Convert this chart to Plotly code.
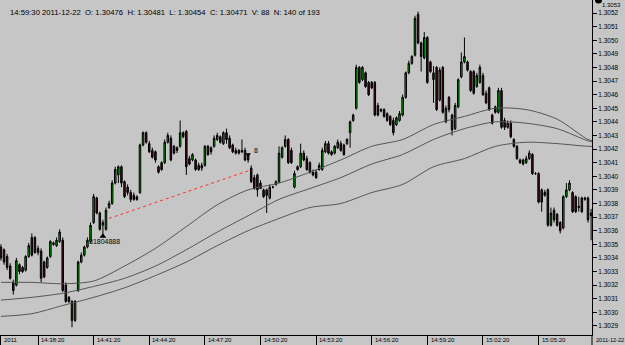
import plotly.graph_objects as go

# ---------------- data ----------------
bars = list(range(192))

opens = [1.30348,1.30346,1.30341,1.30334,1.30322,1.30320,1.30335,1.30333,1.30331,1.30341,
1.30355,1.30355,1.30347,1.30345,1.30337,1.30333,1.30341,1.30351,1.30349,1.30352,
1.30353,1.30320,1.30311,1.30308,1.30294,1.30316,1.30337,1.30342,1.30348,1.30352,
1.30366,1.30384,1.30373,1.30364,1.30361,1.30377,1.30380,1.30395,1.30401,1.30407,
1.30396,1.30392,1.30388,1.30386,1.30385,1.30388,1.30423,1.30432,1.30424,1.30419,
1.30418,1.30407,1.30410,1.30410,1.30425,1.30428,1.30422,1.30421,1.30422,1.30432,
1.30433,1.30413,1.30412,1.30412,1.30408,1.30408,1.30408,1.30422,1.30421,1.30422,
1.30427,1.30429,1.30424,1.30432,1.30428,1.30423,1.30419,1.30419,1.30419,1.30419,
1.30416,1.30406,1.30399,1.30401,1.30395,1.30390,1.30390,1.30384,1.30392,1.30394,
1.30396,1.30414,1.30422,1.30427,1.30419,1.30392,1.30407,1.30407,1.30417,1.30413,
1.30410,1.30403,1.30403,1.30405,1.30405,1.30418,1.30424,1.30418,1.30417,1.30421,
1.30424,1.30423,1.30424,1.30432,1.30441,1.30450,1.30480,1.30471,1.30476,1.30469,
1.30469,1.30469,1.30452,1.30449,1.30449,1.30446,1.30444,1.30441,1.30438,1.30441,
1.30445,1.30458,1.30476,1.30483,1.30489,1.30519,1.30498,1.30487,1.30502,1.30484,
1.30476,1.30480,1.30456,1.30480,1.30440,1.30458,1.30445,1.30435,1.30451,1.30473,
1.30484,1.30484,1.30477,1.30477,1.30466,1.30469,1.30474,1.30461,1.30465,1.30445,
1.30451,1.30447,1.30463,1.30441,1.30436,1.30439,1.30427,1.30422,1.30412,1.30412,
1.30410,1.30413,1.30416,1.30402,1.30402,1.30390,1.30386,1.30390,1.30364,1.30375,
1.30372,1.30366,1.30362,1.30385,1.30390,1.30388,1.30385,1.30378,1.30384,1.30383,
1.30384,1.30371]

highs = [1.30350,1.30347,1.30343,1.30336,1.30324,1.30340,1.30336,1.30334,1.30342,1.30351,
1.30358,1.30356,1.30349,1.30347,1.30338,1.30341,1.30353,1.30352,1.30355,1.30361,
1.30355,1.30322,1.30312,1.30309,1.30309,1.30338,1.30344,1.30349,1.30355,1.30366,
1.30387,1.30385,1.30374,1.30368,1.30377,1.30382,1.30397,1.30407,1.30408,1.30408,
1.30397,1.30394,1.30390,1.30388,1.30386,1.30424,1.30433,1.30433,1.30426,1.30421,
1.30419,1.30408,1.30411,1.30427,1.30432,1.30430,1.30423,1.30422,1.30441,1.30433,
1.30434,1.30415,1.30417,1.30413,1.30410,1.30410,1.30423,1.30423,1.30422,1.30430,
1.30432,1.30430,1.30433,1.30435,1.30430,1.30424,1.30421,1.30420,1.30427,1.30421,
1.30417,1.30408,1.30401,1.30402,1.30397,1.30391,1.30391,1.30394,1.30393,1.30397,
1.30422,1.30422,1.30430,1.30428,1.30421,1.30404,1.30408,1.30424,1.30419,1.30415,
1.30411,1.30405,1.30405,1.30410,1.30421,1.30426,1.30426,1.30419,1.30423,1.30427,
1.30426,1.30424,1.30428,1.30441,1.30446,1.30482,1.30481,1.30481,1.30477,1.30470,
1.30470,1.30470,1.30454,1.30450,1.30450,1.30447,1.30445,1.30443,1.30444,1.30448,
1.30460,1.30477,1.30485,1.30489,1.30518,1.30521,1.30499,1.30506,1.30503,1.30485,
1.30481,1.30481,1.30480,1.30481,1.30452,1.30459,1.30446,1.30454,1.30472,1.30491,
1.30502,1.30485,1.30478,1.30478,1.30476,1.30482,1.30476,1.30463,1.30466,1.30446,
1.30452,1.30465,1.30465,1.30443,1.30441,1.30441,1.30428,1.30423,1.30413,1.30413,
1.30415,1.30419,1.30417,1.30403,1.30403,1.30391,1.30390,1.30391,1.30377,1.30377,
1.30373,1.30367,1.30386,1.30395,1.30397,1.30389,1.30386,1.30385,1.30385,1.30385,
1.30385,1.30376]

lows = [1.30338,1.30335,1.30331,1.30324,1.30313,1.30319,1.30328,1.30329,1.30330,1.30340,
1.30341,1.30343,1.30342,1.30322,1.30325,1.30332,1.30340,1.30349,1.30348,1.30351,
1.30315,1.30307,1.30307,1.30289,1.30293,1.30315,1.30336,1.30341,1.30347,1.30351,
1.30365,1.30372,1.30360,1.30357,1.30360,1.30376,1.30379,1.30394,1.30395,1.30392,
1.30384,1.30386,1.30381,1.30382,1.30382,1.30387,1.30422,1.30424,1.30417,1.30413,
1.30410,1.30402,1.30404,1.30409,1.30424,1.30411,1.30416,1.30417,1.30421,1.30428,
1.30401,1.30408,1.30411,1.30404,1.30404,1.30404,1.30407,1.30415,1.30416,1.30421,
1.30426,1.30424,1.30423,1.30424,1.30420,1.30417,1.30416,1.30416,1.30417,1.30411,
1.30410,1.30395,1.30390,1.30385,1.30391,1.30384,1.30373,1.30383,1.30391,1.30393,
1.30395,1.30413,1.30421,1.30409,1.30409,1.30391,1.30404,1.30406,1.30411,1.30404,
1.30402,1.30400,1.30398,1.30404,1.30404,1.30417,1.30416,1.30415,1.30416,1.30420,
1.30418,1.30415,1.30423,1.30421,1.30440,1.30449,1.30468,1.30470,1.30465,1.30459,
1.30464,1.30444,1.30444,1.30447,1.30443,1.30440,1.30437,1.30430,1.30437,1.30440,
1.30444,1.30457,1.30475,1.30482,1.30488,1.30497,1.30477,1.30486,1.30468,1.30476,
1.30454,1.30448,1.30455,1.30446,1.30439,1.30447,1.30430,1.30434,1.30450,1.30472,
1.30483,1.30477,1.30462,1.30460,1.30465,1.30468,1.30459,1.30453,1.30448,1.30438,
1.30446,1.30446,1.30435,1.30434,1.30435,1.30428,1.30421,1.30412,1.30409,1.30408,
1.30409,1.30412,1.30401,1.30401,1.30380,1.30374,1.30385,1.30363,1.30363,1.30366,
1.30363,1.30358,1.30361,1.30384,1.30389,1.30373,1.30373,1.30374,1.30373,1.30382,
1.30366,1.30353]

closes = [1.30340,1.30337,1.30333,1.30325,1.30316,1.30338,1.30330,1.30330,1.30341,1.30349,
1.30342,1.30344,1.30344,1.30325,1.30326,1.30340,1.30352,1.30350,1.30353,1.30359,
1.30316,1.30308,1.30308,1.30294,1.30308,1.30337,1.30342,1.30348,1.30353,1.30364,
1.30385,1.30373,1.30361,1.30366,1.30375,1.30380,1.30395,1.30405,1.30407,1.30395,
1.30385,1.30388,1.30383,1.30383,1.30383,1.30423,1.30432,1.30425,1.30418,1.30414,
1.30412,1.30403,1.30405,1.30425,1.30430,1.30412,1.30417,1.30419,1.30432,1.30429,
1.30407,1.30409,1.30416,1.30405,1.30405,1.30406,1.30422,1.30416,1.30418,1.30428,
1.30430,1.30425,1.30432,1.30427,1.30421,1.30418,1.30417,1.30417,1.30418,1.30412,
1.30412,1.30396,1.30391,1.30390,1.30391,1.30385,1.30386,1.30392,1.30392,1.30396,
1.30417,1.30421,1.30427,1.30410,1.30410,1.30402,1.30405,1.30417,1.30412,1.30405,
1.30403,1.30401,1.30399,1.30408,1.30419,1.30424,1.30417,1.30416,1.30422,1.30425,
1.30419,1.30416,1.30427,1.30440,1.30445,1.30480,1.30469,1.30480,1.30466,1.30460,
1.30465,1.30445,1.30445,1.30448,1.30444,1.30441,1.30438,1.30432,1.30443,1.30446,
1.30458,1.30476,1.30483,1.30488,1.30516,1.30498,1.30488,1.30502,1.30469,1.30477,
1.30471,1.30449,1.30478,1.30447,1.30450,1.30449,1.30434,1.30452,1.30471,1.30484,
1.30488,1.30478,1.30463,1.30461,1.30474,1.30480,1.30460,1.30454,1.30449,1.30439,
1.30447,1.30463,1.30436,1.30436,1.30439,1.30429,1.30422,1.30413,1.30410,1.30409,
1.30413,1.30417,1.30402,1.30402,1.30381,1.30381,1.30388,1.30364,1.30373,1.30368,
1.30364,1.30360,1.30385,1.30390,1.30395,1.30374,1.30374,1.30377,1.30374,1.30384,
1.30368,1.30373]

# moving-average curves, read at sample bars
ma_bars = [0,10,20,30,40,50,60,70,80,90,100,110,120,130,140,150,160,170,180,190,192]
ma_fast = [1.30322,1.30322,1.30321,1.30323,1.30334,1.30347,1.30363,1.30379,1.30390,1.30395,
           1.30403,1.30412,1.30422,1.30427,1.30438,1.30444,1.30450,1.30449,1.30442,1.30427,1.30426]
ma_mid = [1.30309,1.30311,1.30314,1.30319,1.30325,1.30334,1.30346,1.30359,1.30371,1.30383,
          1.30391,1.30399,1.30409,1.30416,1.30427,1.30435,1.30440,1.30439,1.30435,1.30426,1.30425]
ma_slow = [1.30297,1.30299,1.30305,1.30311,1.30318,1.30327,1.30337,1.30349,1.30360,1.30369,
           1.30377,1.30380,1.30388,1.30394,1.30407,1.30413,1.30422,1.30425,1.30424,1.30422,1.30422]

# drawn trend line
trend_bars = [35, 80]
trend_prices = [1.30369, 1.30404]

# signal marker
signal_bar = 33
signal_price = 1.30356
signal_text = "31804888"
flag_bar = 80
flag_price = 1.30416
flag_text = "8"

# axes
time_tick_bars = [0, 12, 30, 48, 66, 84, 102, 120, 138, 156, 174]
time_tick_text = ["2011", "14:38:20", "14:41:20", "14:44:20", "14:47:20", "14:50:20",
                  "14:53:20", "14:56:20", "14:59:20", "15:02:20", "15:05:20"]
end_date_text = "2011-12-22"
price_ticks = [1.3029 + 0.0001 * k for k in range(24)]
top_price_text = "1.3053"
header_text = ("14:59:30 2011-12-22  O: 1.30476  H: 1.30481  L: 1.30454  "
               "C: 1.30471  V: 88  N: 140 of 193")

# ---------------- figure ----------------
BG = "#c6c6c6"
W, H = 625, 345
L, R, T, B = 0, 33, 0, 10
PW, PH = W - L - R, H - T - B
FONT = "Liberation Sans, Arial, sans-serif"

fig = go.Figure()

for vals in (ma_slow, ma_mid, ma_fast):
    fig.add_trace(go.Scatter(x=ma_bars, y=vals, mode="lines",
                             line=dict(color="#555555", width=1, shape="spline", smoothing=0.8),
                             hoverinfo="skip", showlegend=False))

fig.add_trace(go.Scatter(x=trend_bars, y=trend_prices, mode="lines",
                         line=dict(color="#ff3030", width=1, dash="dot"),
                         hoverinfo="skip", showlegend=False))

fig.add_trace(go.Candlestick(
    x=bars, open=opens, high=highs, low=lows, close=closes,
    increasing=dict(fillcolor="#00b000", line=dict(color="#000000", width=1)),
    decreasing=dict(fillcolor="#4a0c18", line=dict(color="#000000", width=1)),
    whiskerwidth=0, hoverinfo="skip", showlegend=False))

fig.add_trace(go.Scatter(x=[signal_bar], y=[signal_price], mode="markers",
                         marker=dict(symbol="triangle-up", size=6, color="black"),
                         hoverinfo="skip", showlegend=False))
fig.add_trace(go.Scatter(x=[flag_bar], y=[flag_price], mode="markers",
                         marker=dict(symbol="triangle-down", size=5, color="black"),
                         hoverinfo="skip", showlegend=False))

ann = []
ann.append(dict(x=signal_bar + 0.4, y=signal_price - 0.00004, xref="x", yref="y",
                text=signal_text, showarrow=False, xanchor="center", yanchor="middle",
                font=dict(size=7, color="black", family=FONT)))
ann.append(dict(x=flag_bar + 1.2, y=flag_price + 0.00003, xref="x", yref="y",
                text=flag_text, showarrow=False, xanchor="left", yanchor="middle",
                font=dict(size=7, color="black", family=FONT)))
for b, t in zip(time_tick_bars, time_tick_text):
    ann.append(dict(x=b + 0.4, y=-5.5 / PH, xref="x", yref="paper", text=t,
                    showarrow=False, xanchor="left", yanchor="middle",
                    font=dict(size=6, color="black", family=FONT)))
ann.append(dict(x=594 / PW, y=-5.5 / PH, xref="paper", yref="paper", text=end_date_text,
                showarrow=False, xanchor="left", yanchor="middle",
                font=dict(size=5.6, color="black", family=FONT)))
ann.append(dict(x=600 / PW, y=1.0, xref="paper", yref="paper", text=top_price_text,
                showarrow=False, xanchor="left", yanchor="top",
                font=dict(size=6, color="black", family=FONT)))
ann.append(dict(x=8 / PW, y=1 - 12 / PH, xref="paper", yref="paper", text=header_text,
                showarrow=False, xanchor="left", yanchor="middle",
                font=dict(size=7.7, color="black", family=FONT)))

shapes = [
    dict(type="line", xref="paper", yref="paper", x0=1, x1=1, y0=0, y1=-B / PH,
         line=dict(color="black", width=1)),
    dict(type="circle", xref="paper", yref="paper", x0=595 / PW, x1=602 / PW,
         y0=1 - 3.5 / PH, y1=1 + 3.5 / PH, fillcolor="black", line=dict(color="black", width=0)),
]

fig.update_layout(
    width=W, height=H, margin=dict(l=L, r=R, t=T, b=B),
    paper_bgcolor=BG, plot_bgcolor=BG,
    annotations=ann, shapes=shapes, showlegend=False,
    xaxis=dict(range=[-0.3, -0.3 + PW / 3.09], showgrid=False, zeroline=False,
               rangeslider=dict(visible=False), showline=True, linecolor="black",
               linewidth=1, mirror=True, tickmode="array", tickvals=time_tick_bars,
               ticks="outside", ticklen=B, tickcolor="black", tickwidth=1,
               showticklabels=False, fixedrange=True),
    yaxis=dict(range=[1.3028333, 1.3052956], side="right", showgrid=False, zeroline=False,
               showline=True, linecolor="black", linewidth=1, tickmode="array",
               tickvals=price_ticks, ticktext=["%.4f" % v for v in price_ticks],
               ticks="outside", ticklen=4, tickcolor="black",
               tickfont=dict(size=6.5, color="black", family=FONT), fixedrange=True),
)

fig.write_html("out.html")
